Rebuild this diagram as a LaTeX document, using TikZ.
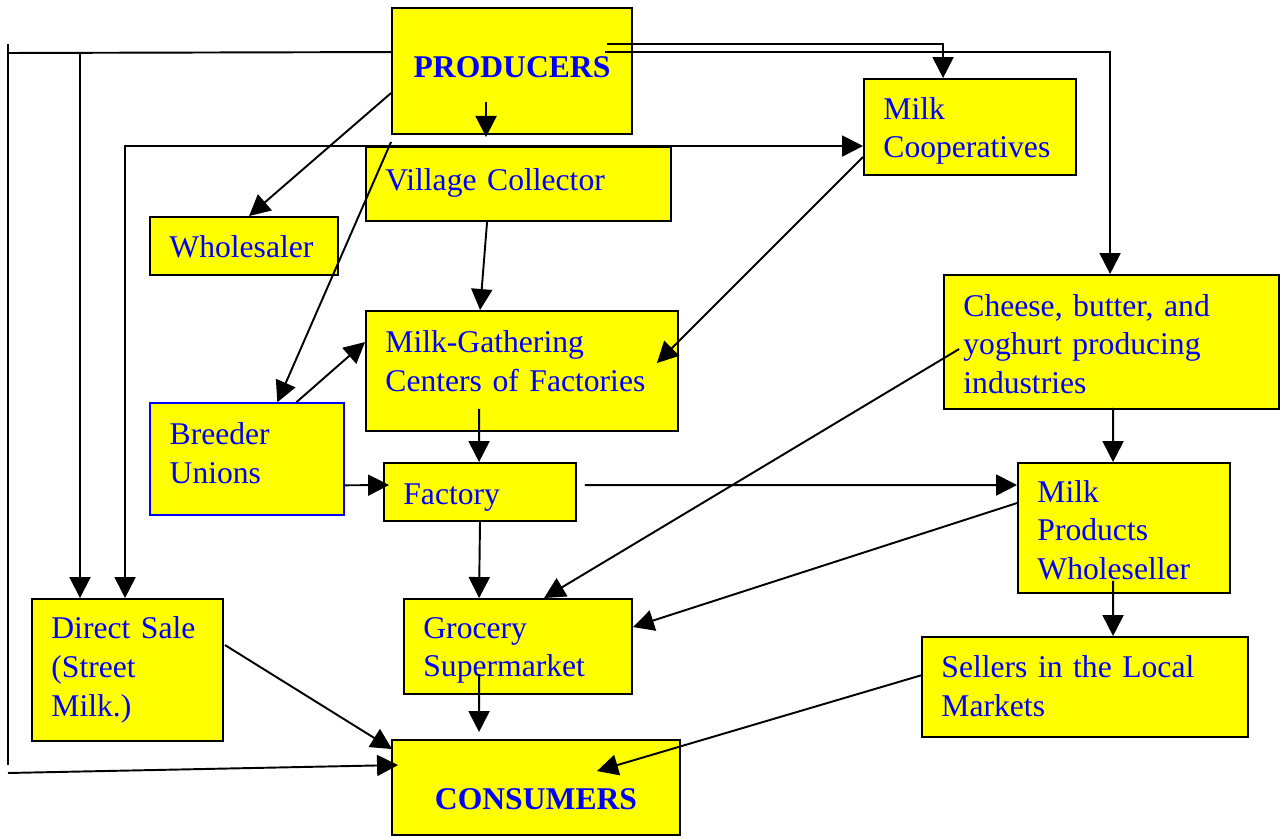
\documentclass[tikz,border=0pt]{standalone}
\usepackage{fontspec}
\setmainfont{Liberation Serif}
\usetikzlibrary{arrows.meta,calc}
\definecolor{boxyellow}{RGB}{255,255,0}
\definecolor{txtblue}{RGB}{0,0,255}
\tikzset{
  box/.style={draw=black, line width=1.1pt, fill=boxyellow, inner sep=0pt},
  bluebox/.style={box, draw=txtblue, line width=0.8pt},
  txt/.style={font=\fontsize{18}{22}\selectfont, text=txtblue, align=left, inner sep=0pt, anchor=west},
  bigbox/.style={box, inner xsep=0.4cm, align=center, text=txtblue, font=\fontsize{18}{22}\selectfont\bfseries},
  conn/.style={line width=1.1pt, -{Triangle[length=0.42cm,width=0.42cm]}},
  conn2/.style={line width=1.1pt, {Triangle[length=0.42cm,width=0.42cm]}-{Triangle[length=0.42cm,width=0.42cm]}},
  plain/.style={line width=1.1pt},
}
\begin{document}
\begin{tikzpicture}[x=0.02cm,y=-0.02cm]
\useasboundingbox (0,0) rectangle (1281,837);
% boxes
\node[bigbox, text width=4.0cm, minimum height=2.52cm] (prod) at (512,71) {\raisebox{0.08cm}[\height][\depth]{PRODUCERS}};
\node[box, minimum width=4.24cm, minimum height=1.92cm] (coop) at (970,127) {};
\node[txt, text width=3.44cm] (coopt) at ($(coop.west)+(20,4)$) {Milk\\Cooperatives};
\node[box, minimum width=6.1cm, minimum height=1.48cm] (vill) at (518.5,184) {};
\node[txt, text width=5.3cm] (villt) at ($(vill.west)+(20,-1)$) {Village Collector};
\node[box, minimum width=3.76cm, minimum height=1.16cm] (whol) at (244,246) {};
\node[txt, text width=2.96cm] (wholt) at ($(whol.west)+(20,1)$) {Wholesaler};
\node[box, minimum width=6.7cm, minimum height=2.68cm] (chee) at (1111.5,342) {};
\node[txt, text width=5.9cm] (cheet) at ($(chee.west)+(20,2)$) {Cheese, butter, and\\yoghurt producing\\industries};
\node[box, minimum width=6.24cm, minimum height=2.4cm] (mgc) at (522,371) {};
\node[txt, text width=5.44cm] (mgct) at ($(mgc.west)+(20,-10)$) {Milk-Gathering\\Centers of Factories};
\node[bluebox, minimum width=3.88cm, minimum height=2.24cm] (bree) at (247,459) {};
\node[txt, text width=3.08cm] (breet) at ($(bree.west)+(20,-6)$) {Breeder\\Unions};
\node[box, minimum width=3.84cm, minimum height=1.16cm] (fact) at (480,492) {};
\node[txt, text width=3.04cm] (factt) at ($(fact.west)+(20,6)$) {Factory};
\node[box, minimum width=4.24cm, minimum height=2.6cm] (mpw) at (1124,528) {};
\node[txt, text width=3.44cm] (mpwt) at ($(mpw.west)+(20,2)$) {Milk\\Products\\Wholeseller};
\node[box, minimum width=3.82cm, minimum height=2.84cm] (dir) at (127.5,670) {};
\node[txt, text width=3.02cm] (dirt) at ($(dir.west)+(20,0)$) {Direct Sale\\(Street\\Milk.)};
\node[box, minimum width=4.56cm, minimum height=1.9cm] (groc) at (518,646.5) {};
\node[txt, text width=3.76cm] (groct) at ($(groc.west)+(20,4)$) {Grocery\\Supermarket};
\node[box, minimum width=6.52cm, minimum height=2.0cm] (sell) at (1085,687) {};
\node[txt, text width=5.72cm] (sellt) at ($(sell.west)+(20,-1)$) {Sellers in the Local\\Markets};
\node[bigbox, text width=4.96cm, minimum height=1.9cm] (cons) at (536,787.5) {\raisebox{-0.24cm}[\height][\depth]{CONSUMERS}};
% free ends on the left
\coordinate (lt) at (8,44);
\coordinate (lb) at (8,765);
\coordinate (lh) at (8,53);
\coordinate (lc) at (8,773);
\coordinate (c80) at (80,53);
% connectors
\draw[plain] (lt) -- (lb);
\draw[plain] (lh) -- ($(prod.north west)+(0,45)$);
\draw[conn] (c80) -- (c80 |- dir.north);
\draw[conn2] ($(dir.north west)+(94,0)$) |- ($(coop.north west)+(0,68)$);
\draw[conn] (lc) -- ($(cons.north west)+(7,26)$);
\draw[conn] ($(prod.north west)+(0,86)$) -- ($(whol.north west)+(100,0)$);
\draw[conn] ($(prod.south west)+(95,-33)$) -- ($(prod.south west)+(95,2)$);
\draw[conn] ($(prod.south west)+(0,7)$) -- ($(bree.north west)+(128,0)$);
\draw[conn] ($(bree.north west)+(147,0)$) -- ($(mgc.north west)+(0,32)$);
\draw[conn] ($(bree.north east)+(0,83)$) -- ($(fact.north west)+(6,23)$);
\draw[conn] ($(vill.south west)+(122,0)$) -- ($(mgc.north west)+(115,0)$);
\draw[conn] ($(mgc.south west)+(114,-23)$) -- ($(fact.north west)+(96,0)$);
\draw[conn] ($(coop.north west)+(0,79)$) -- ($(mgc.north east)+(-22,53)$);
\draw[conn] ($(prod.north west)+(216,37)$) -| ($(coop.north west)+(80,0)$);
\draw[conn] ($(prod.north west)+(214,45)$) -| ($(chee.north west)+(167,0)$);
\draw[conn] ($(fact.north east)+(8,23)$) -- ($(mpw.north west)+(0,23)$);
\draw[conn] (fact.south) -- ($(groc.north west)+(76,0)$);
\draw[conn] ($(chee.north west)+(16,75)$) -- ($(groc.north west)+(141,0)$);
\draw[conn] ($(mpw.north west)+(0,41)$) -- ($(groc.north east)+(0,29)$);
\draw[conn] ($(chee.south west)+(170,-2)$) -- ($(mpw.north west)+(96,0)$);
\draw[conn] ($(mpw.south west)+(96,-13)$) -- ($(sell.north west)+(192,0)$);
\draw[conn] ($(sell.north west)+(1,39)$) -- ($(cons.north west)+(206,32)$);
\draw[conn] ($(dir.north east)+(1,47)$) -- ($(cons.north west)+(1,10)$);
\draw[conn] ($(groc.north west)+(76,76)$) -- ($(cons.north west)+(88,-7)$);
\end{tikzpicture}
\end{document}
